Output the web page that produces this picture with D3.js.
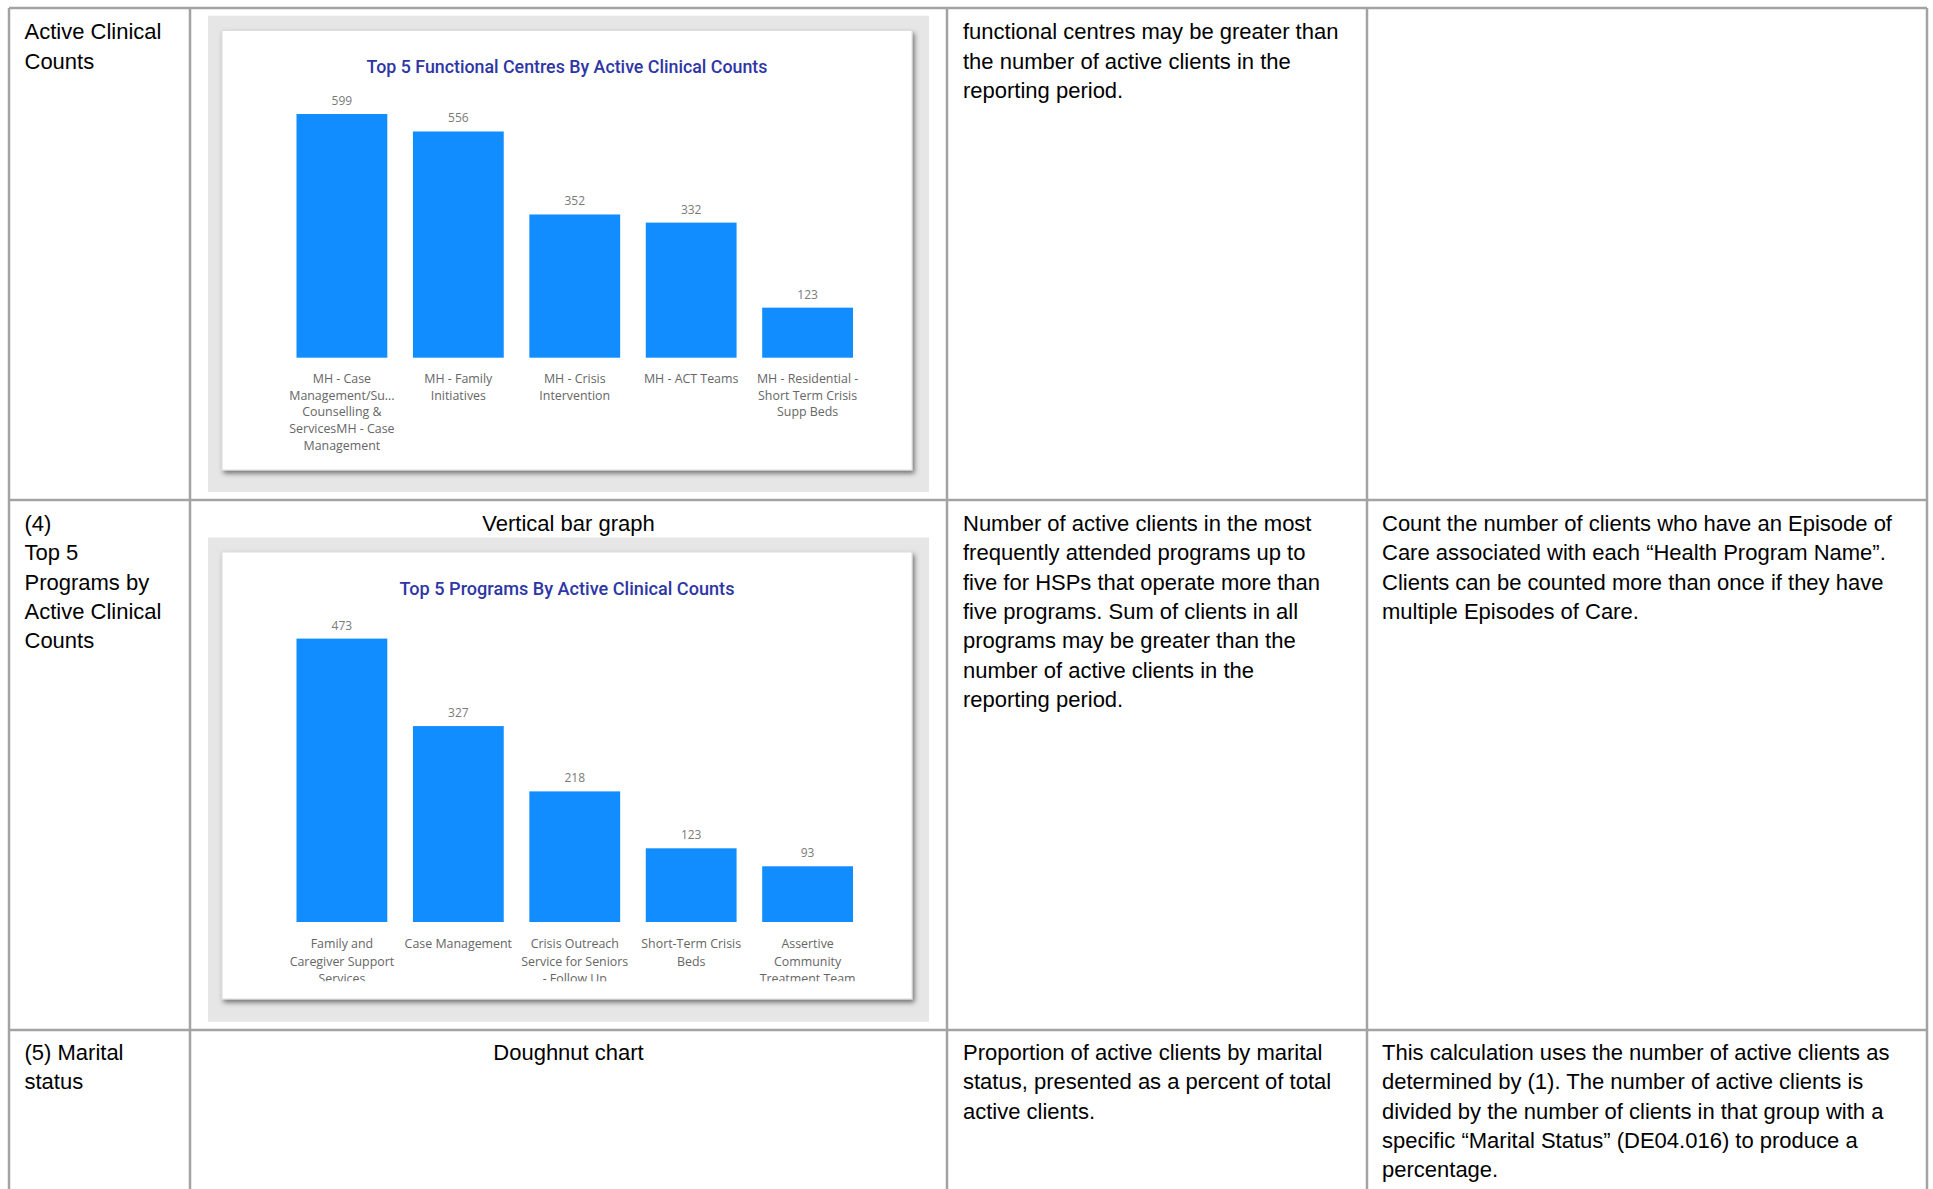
<!DOCTYPE html>
<html>
<head>
<meta charset="utf-8">
<script src="https://cdn.jsdelivr.net/npm/d3@7"></script>
<style>
  html, body { margin: 0; padding: 0; background: #ffffff; }
  svg { display: block; }
</style>
</head>
<body>
<svg id="page" width="1933" height="1189"></svg>
<script>
// ---- chart data ----
const centreNames = [
  ["MH - Case", "Management/Su...", "Counselling &", "ServicesMH - Case", "Management"],
  ["MH - Family", "Initiatives"],
  ["MH - Crisis", "Intervention"],
  ["MH - ACT Teams"],
  ["MH - Residential -", "Short Term Crisis", "Supp Beds"]
];
const centreCounts = [599, 556, 352, 332, 123];

const programNames = [
  ["Family and", "Caregiver Support", "Services"],
  ["Case Management"],
  ["Crisis Outreach", "Service for Seniors", "- Follow Up"],
  ["Short-Term Crisis", "Beds"],
  ["Assertive", "Community", "Treatment Team"]
];
const programCounts = [473, 327, 218, 123, 93];

const chartTitles = [
  "Top 5 Functional Centres By Active Clinical Counts",
  "Top 5 Programs By Active Clinical Counts"
];

// ---- table text ----
const rowLabels = [
  ["Active Clinical", "Counts"],
  ["(4)", "Top 5", "Programs by", "Active Clinical", "Counts"],
  ["(5) Marital", "status"]
];
const visualTypes = ["", "Vertical bar graph", "Doughnut chart"];
const descriptions = [
  ["functional centres may be greater than", "the number of active clients in the", "reporting period."],
  ["Number of active clients in the most", "frequently attended programs up to", "five for HSPs that operate more than",
   "five programs. Sum of clients in all", "programs may be greater than the", "number of active clients in the",
   "reporting period."],
  ["Proportion of active clients by marital", "status, presented as a percent of total", "active clients."]
];
const calculations = [
  [],
  ["Count the number of clients who have an Episode of", "Care associated with each \u201cHealth Program Name\u201d.",
   "Clients can be counted more than once if they have", "multiple Episodes of Care."],
  ["This calculation uses the number of active clients as", "determined by (1). The number of active clients is",
   "divided by the number of clients in that group with a", "specific \u201cMarital Status\u201d (DE04.016) to produce a",
   "percentage."]
];

// ---- page ----
const svg = d3.select("#page");
const W = 1933, H = 1189;
svg.append("rect").attr("width", W).attr("height", H).attr("fill", "#ffffff");

const defs = svg.append("defs");
const shadow = defs.append("filter").attr("id", "cardShadow")
  .attr("x", "-5%").attr("y", "-5%").attr("width", "110%").attr("height", "110%");
shadow.append("feDropShadow").attr("dx", 2).attr("dy", 3)
  .attr("stdDeviation", 2.6).attr("flood-color", "#000").attr("flood-opacity", 0.5);

// table grid
const colX = [9, 190, 947, 1367, 1927];
const rowY = [8, 500, 1030];
const gridColor = "#a3a3a3";
const grid = svg.append("g").attr("stroke", gridColor).attr("stroke-width", 2.5);
rowY.forEach(y => grid.append("line").attr("x1", colX[0]).attr("x2", colX[4]).attr("y1", y).attr("y2", y));
colX.forEach(x => grid.append("line").attr("x1", x).attr("x2", x).attr("y1", rowY[0]).attr("y2", H));

// table text
const bodyFont = "'Liberation Sans', Arial, sans-serif";
const bodySize = 22;
const lineStep = 29.3;
const firstBaseline = [39.3, 531, 1060];
const textG = svg.append("g").attr("font-family", bodyFont).attr("font-size", bodySize).attr("fill", "#000");

function writeLines(lines, x, y0, anchor) {
  lines.forEach((l, i) => {
    textG.append("text").attr("x", x).attr("y", y0 + i * lineStep)
      .attr("text-anchor", anchor || "start").text(l);
  });
}
rowLabels.forEach((ls, r) => writeLines(ls, 24.5, firstBaseline[r]));
visualTypes.forEach((v, r) => { if (v) writeLines([v], (colX[1] + colX[2]) / 2, firstBaseline[r], "middle"); });
descriptions.forEach((ls, r) => writeLines(ls, 963, firstBaseline[r]));
calculations.forEach((ls, r) => writeLines(ls, 1382, firstBaseline[r]));

// ---- bar chart panel ----
function drawPanel(cfg) {
  const g = svg.append("g");
  // grey frame and white card
  g.append("rect").attr("x", 208).attr("y", cfg.frameTop).attr("width", 721)
    .attr("height", cfg.frameBottom - cfg.frameTop).attr("fill", "#e6e6e6");
  g.append("rect").attr("x", 222).attr("y", cfg.cardTop).attr("width", 690)
    .attr("height", cfg.cardBottom - cfg.cardTop).attr("fill", "#ffffff")
    .attr("stroke", "#dcdcdc").attr("stroke-width", 1)
    .attr("filter", "url(#cardShadow)");

  const clipId = "clip" + cfg.id;
  defs.append("clipPath").attr("id", clipId).append("rect")
    .attr("x", 222).attr("y", cfg.cardTop).attr("width", 690)
    .attr("height", cfg.clipBottom - cfg.cardTop);
  const inner = g.append("g").attr("clip-path", `url(#${clipId})`);

  // title, fitted to its measured width
  const title = inner.append("text").attr("x", 567).attr("y", cfg.titleY)
    .attr("text-anchor", "middle").attr("font-family", "Roboto, sans-serif")
    .attr("font-weight", 500).attr("font-size", 16.5).attr("fill", "#2e36a6")
    .text(cfg.title);
  const tw = title.node().getComputedTextLength();
  title.attr("font-size", 16.5 * cfg.titleWidth / tw);

  const keys = cfg.names.map(n => n.join(" "));
  const x = d3.scaleBand().domain(keys).range([296.5, 853]).paddingInner(0.22).paddingOuter(0);
  const y = d3.scaleLinear().domain([0, d3.max(cfg.values)]).range([cfg.baseY, cfg.topY]);

  const data = keys.map((k, i) => ({ key: k, value: cfg.values[i], lines: cfg.names[i] }));

  inner.selectAll("rect.bar").data(data).join("rect").attr("class", "bar")
    .attr("x", d => x(d.key)).attr("width", x.bandwidth())
    .attr("y", d => y(d.value)).attr("height", d => y(0) - y(d.value))
    .attr("fill", "#118dff");

  inner.selectAll("text.val").data(data).join("text").attr("class", "val")
    .attr("x", d => x(d.key) + x.bandwidth() / 2).attr("y", d => y(d.value) - 9)
    .attr("text-anchor", "middle").attr("font-family", "'Open Sans', sans-serif")
    .attr("font-size", 12).attr("fill", "#7a7a7a").text(d => d.value);

  const axis = inner.append("g").attr("transform", `translate(0,${cfg.baseY})`)
    .call(d3.axisBottom(x).tickSize(0).tickPadding(0));
  axis.select(".domain").remove();
  axis.selectAll(".tick text").each(function (k) {
    const t = d3.select(this);
    const lines = cfg.names[keys.indexOf(k)];
    t.text(null).attr("dy", null).attr("y", null)
      .attr("font-family", "'Open Sans', sans-serif").attr("font-size", 12.4).attr("fill", "#666666");
    lines.forEach((l, i) => t.append("tspan").attr("x", 0)
      .attr("y", cfg.labelOffset + i * cfg.labelStep).text(l));
  });
}

drawPanel({
  id: 1, title: chartTitles[0], titleWidth: 401, titleY: 72.5,
  names: centreNames, values: centreCounts,
  frameTop: 15.7, frameBottom: 492, cardTop: 30.5, cardBottom: 470, clipBottom: 470,
  baseY: 357.7, topY: 114, labelOffset: 25.3, labelStep: 16.7
});
drawPanel({
  id: 2, title: chartTitles[1], titleWidth: 335, titleY: 594.5,
  names: programNames, values: programCounts,
  frameTop: 537.5, frameBottom: 1021.7, cardTop: 552, cardBottom: 999, clipBottom: 981.2,
  baseY: 922, topY: 638.6, labelOffset: 26.3, labelStep: 17.3
});
</script>
</body>
</html>
